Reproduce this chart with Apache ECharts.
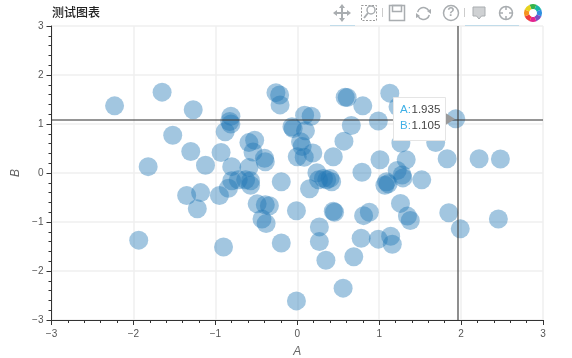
<!DOCTYPE html>
<html><head><meta charset="utf-8">
<style>html,body{margin:0;padding:0;background:#fff}#c{width:572px;height:358px}</style>
<script src="https://cdn.jsdelivr.net/npm/echarts@6/dist/echarts.min.js"></script>
</head><body><div id="c"></div>
<script>
const titleText = '测试图表';
const xName = 'A', yName = 'B';
const valuesA = [-2.23,-1.65,-1.27,-1.52,-1.30,-1.12,-1.82,-0.93,-0.81,-0.825,-0.81,-0.88,-0.26,-0.215,-0.21,-0.59,-0.52,-0.54,-0.40,-0.39,-0.80,-0.59,-0.195,-0.065,-0.05,0.09,0.17,0.10,0.04,0.06,0.19,0,0.085,0.44,0.66,0.57,0.585,0.61,0.80,0.99,1.13,1.23,1.265,1.69,1.935,1.83,2.22,2.48,1.01,1.33,0.79,1.22,1.28,1.52,0.24,0.32,0.40,1.09,0.15,0.42,0.36,0.26,1.07,1.11,1.29,-0.01,0.44,0.455,0.81,0.88,1.26,1.345,1.38,1.85,2.455,1.99,0.27,0.27,0.35,0.69,0.78,0.99,1.14,1.16,0.56,-0.01,-1.935,-0.90,-0.195,-0.49,-0.39,-0.34,-0.43,-0.38,-1.35,-1.18,-1.22,-0.95,-0.84,-0.57,-0.80,-0.63,-0.72,-0.57];
const valuesB = [1.37,1.65,1.29,0.77,0.44,0.16,0.13,0.42,1.16,1.05,1.0,0.84,1.64,1.59,1.39,0.62,0.67,0.43,0.30,0.23,0.13,0.11,-0.18,0.945,0.91,1.18,1.16,0.86,0.64,0.54,0.41,0.33,0.32,0.33,0.97,0.65,1.545,1.54,1.37,1.06,1.63,1.35,0.61,0.62,1.105,0.29,0.29,0.285,0.27,0.27,0.015,0.05,-0.04,-0.14,0.005,-0.11,-0.11,-0.18,-0.32,-0.18,-0.14,-0.14,-0.25,-0.22,-0.10,-0.77,-0.78,-0.80,-0.87,-0.80,-0.62,-0.88,-0.97,-0.81,-0.94,-1.14,-1.10,-1.40,-1.78,-1.71,-1.33,-1.35,-1.29,-1.455,-2.35,-2.61,-1.37,-1.51,-1.43,-0.63,-0.65,-0.67,-0.94,-1.03,-0.46,-0.40,-0.73,-0.46,-0.31,-0.25,-0.16,-0.14,-0.14,-0.16];
const crossA = 1.96, crossB = 1.095;
const tipLabels = ['A:', 'B:'];
const tipValues = ['1.935', '1.105'];
const rainbow = ['#35b34a','#17b6a6','#2f8fe0','#7a4fc4','#e3248f','#ee3b3b','#f6921e','#e6d21f'];

const ICON = '#a9adb0', BLUE = '#3aa3dc';
const font = '"Liberation Sans", Arial, sans-serif';
const st = {stroke: ICON, fill: 'none', lineWidth: 1.5};
const line = (x1,y1,x2,y2,stroke,w) => ({type:'line', silent:true, shape:{x1,y1,x2,y2}, style:{stroke, lineWidth:w||1}});
const poly = (points, style) => ({type:'polygon', silent:true, shape:{points}, style});

const toolbar = [
  // pan
  line(335,13,349,13,ICON,2), line(342,6,342,20,ICON,2),
  poly([[342,4],[339,8],[345,8]],{fill:ICON}), poly([[342,22],[339,18],[345,18]],{fill:ICON}),
  poly([[333,13],[337,10],[337,16]],{fill:ICON}), poly([[351,13],[347,10],[347,16]],{fill:ICON}),
  line(330,25.5,355,25.5,BLUE,1),
  // box zoom
  {type:'rect', silent:true, shape:{x:361.5,y:5.5,width:15,height:15}, style:{stroke:'#999',fill:'none',lineWidth:1,lineDash:[2,1.5]}},
  {type:'circle', silent:true, shape:{cx:371,cy:10,r:4}, style:st},
  line(368,13,364,18,ICON,2),
  line(382.5,8,382.5,17,'#ccc',1),
  // save
  {type:'rect', silent:true, shape:{x:389.5,y:5.5,width:15,height:15}, style:st},
  {type:'rect', silent:true, shape:{x:392.5,y:5.5,width:9,height:6}, style:st},
  // refresh
  {type:'arc', silent:true, shape:{cx:423.5,cy:13.5,r:6,startAngle:-2.9,endAngle:-0.5}, style:st},
  {type:'arc', silent:true, shape:{cx:423.5,cy:13.5,r:6,startAngle:0.25,endAngle:2.65}, style:st},
  poly([[431,9],[427,11],[431,14]],{fill:ICON}), poly([[416,18],[420,16],[416,13]],{fill:ICON}),
  // help
  {type:'circle', silent:true, shape:{cx:451,cy:13,r:7.5}, style:st},
  {type:'text', silent:true, style:{x:451,y:13,text:'?',fill:ICON,font:'bold 12px '+font,align:'center',verticalAlign:'middle'}},
  line(464.5,8,464.5,17,'#ccc',1),
  // hint
  poly([[473,7],[485,7],[485,16],[481.5,16],[479,19],[476.5,16],[473,16]],{fill:'#cfd1d3',stroke:ICON,lineWidth:1}),
  // crosshair
  {type:'circle', silent:true, shape:{cx:506,cy:13,r:6.5}, style:st},
  line(506,6,506,10,ICON,1.5), line(506,16,506,20,ICON,1.5), line(499,13,503,13,ICON,1.5), line(509,13,513,13,ICON,1.5),
  line(465,25.5,519,25.5,BLUE,1),
  // colour wheel
  ...rainbow.map((c,i) => ({type:'sector', silent:true,
    shape:{cx:533,cy:13,r:9,r0:4,startAngle:-Math.PI/2-Math.PI/8+i*Math.PI/4,endAngle:-Math.PI/2+Math.PI/8+i*Math.PI/4},
    style:{fill:c}}))
];

const tipBox = [
  poly([[445.5,113],[455,119],[445.5,125]],{fill:'#9a9a9a'}),
  {type:'rect', silent:true, shape:{x:393.5,y:97.5,width:52,height:43}, style:{fill:'#fff',stroke:'#e5e5e5',lineWidth:1}},
  ...[0,1].flatMap(i => [
    {type:'text', silent:true, style:{x:400,y:110+i*16,text:tipLabels[i],fill:'#3fb0e6',font:'11.5px '+font,verticalAlign:'middle'}},
    {type:'text', silent:true, style:{x:411.5,y:110+i*16,text:tipValues[i],fill:'#444',font:'11.5px '+font,verticalAlign:'middle'}}
  ])
].map(e => ({...e, z:100}));

const fmt = v => String(v).replace('-', '\u2212');
const axisCommon = {
  type:'value', min:-3, max:3, interval:1, nameLocation:'middle',
  nameTextStyle:{fontFamily:font,fontStyle:'italic',fontSize:12,color:'#666'},
  axisLine:{onZero:false,lineStyle:{color:'#333',width:1}},
  axisTick:{inside:false,length:5,lineStyle:{color:'#333'}},
  minorTick:{show:true,splitNumber:5,length:3,lineStyle:{color:'#333'}},
  minorSplitLine:{show:false},
  splitLine:{show:true,lineStyle:{color:'#efefef',width:1.5}},
  axisLabel:{color:'#555',fontFamily:font,fontSize:10,formatter:fmt,showMinLabel:true,showMaxLabel:true}
};

const chart = echarts.init(document.getElementById('c'), null, {renderer:'canvas'});
chart.setOption({
  animation:false,
  backgroundColor:'#fff',
  title:{text:titleText,left:47,top:1,textStyle:{fontFamily:'"Noto Sans CJK SC"',fontSize:12,fontWeight:500,color:'#222'}},
  grid:{left:51.5,right:29,top:26,bottom:38,containLabel:false,outerBoundsMode:'none'},
  xAxis:{...axisCommon,name:xName,nameGap:26,axisLabel:{...axisCommon.axisLabel,margin:9}},
  yAxis:{...axisCommon,name:yName,nameGap:30,axisLabel:{...axisCommon.axisLabel,margin:8}},
  graphic:{elements:[...toolbar,...tipBox]},
  series:[{
    type:'scatter',
    symbol:'circle',
    symbolSize:19,
    data:valuesA.map((a,i)=>[a,valuesB[i]]),
    itemStyle:{color:'rgba(31,119,180,0.52)',borderWidth:0},
    emphasis:{disabled:true},
    silent:true,
    markLine:{
      silent:true,symbol:'none',animation:false,label:{show:false},
      lineStyle:{color:'rgba(60,60,60,0.72)',width:1.6,type:'solid'},
      data:[{xAxis:crossA},{yAxis:crossB}]
    }
  }]
});
</script></body></html>
